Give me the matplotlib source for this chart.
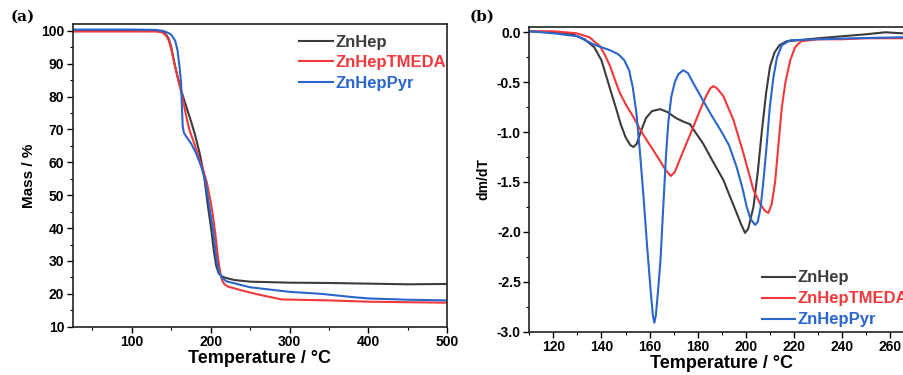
import matplotlib.pyplot as plt
from matplotlib.ticker import MultipleLocator

plt.rcParams['font.family'] = ['Liberation Sans', 'DejaVu Sans']
plt.rcParams['font.weight'] = 'bold'

names = ['ZnHep', 'ZnHepTMEDA', 'ZnHepPyr']
colors = ['#3c3c3c', '#f2383a', '#2a66cc']

# (a) TGA mass curves
tga_T = {
    'ZnHep': [25, 100, 130, 138, 143, 147, 150, 154, 158, 163, 169, 175, 180, 186, 190, 192.3, 196, 200.8, 204, 207, 210, 214, 220, 230, 250, 300, 350, 400, 450, 500],
    'ZnHepTMEDA': [25, 100, 130, 138, 143, 147, 150, 154, 158, 162, 165, 169, 173, 178, 183, 186, 190, 195, 200, 203, 206, 209, 212, 215, 218, 222, 240, 260, 290, 350, 400, 500],
    'ZnHepPyr': [25, 100, 130, 140, 147, 150, 155, 158, 160.5, 162.5, 163.5, 164.5, 166, 170, 175, 182, 188, 193, 198, 203, 207, 210, 214, 220, 250, 300, 340, 380, 400, 450, 500],
}
tga_m = {
    'ZnHep': [100.1, 100.2, 100.1, 99.8, 99.0, 97.5, 95.0, 90.2, 86.0, 81.5, 77.0, 72.5, 68.5, 62.8, 58.0, 54.6, 47.5, 39.4, 33.0, 28.5, 26.3, 25.3, 24.8, 24.2, 23.7, 23.4, 23.3, 23.1, 22.9, 23.0],
    'ZnHepTMEDA': [99.8, 99.8, 99.8, 99.6, 98.7, 97.0, 94.5, 90.0, 86.0, 82.0, 79.0, 74.0, 69.9, 66.5, 63.0, 60.7, 58.0, 54.0, 48.0, 43.5, 38.0, 31.5, 26.5, 23.8, 22.8, 22.2, 21.0, 19.8, 18.3, 18.0, 17.6, 17.3],
    'ZnHepPyr': [100.4, 100.4, 100.3, 100.0, 99.3, 98.8, 97.0, 94.0, 89.0, 84.0, 77.0, 71.0, 69.0, 67.5, 65.8, 62.5, 58.7, 54.6, 47.0, 39.4, 31.0, 27.0, 25.0, 23.8, 22.0, 20.6, 20.0, 19.0, 18.6, 18.2, 18.0],
}

# (b) DTG curves
dtg_T = {
    'ZnHep': [110, 120, 128, 133, 137, 140, 142, 144, 146.3, 148, 150, 152, 153.3, 154.6, 156.3, 158.5, 161, 164.4, 167.5, 171, 174.5, 176.8, 179, 182.4, 186, 190.7, 193, 196.2, 198, 199.7, 201, 203.2, 205, 206.6, 208.5, 210.1, 212, 214, 217, 222, 230, 240, 250, 258, 265, 270],
    'ZnHepTMEDA': [110, 120, 129.7, 135, 139.4, 141.5, 143.6, 145.5, 147.7, 150.5, 153.3, 156, 158.8, 161.5, 164.4, 166.7, 168.8, 170.5, 172.5, 175.4, 178.5, 181, 183.5, 185.3, 186.5, 188, 190.7, 194.9, 199, 203.2, 206, 208, 209.4, 210.8, 212.2, 213.5, 215, 216.5, 218.5, 220.5, 223, 230, 240, 250, 265, 270],
    'ZnHepPyr': [110, 120, 130, 136.6, 140, 143.6, 147, 149.5, 151.5, 153, 154.5, 156, 157.5, 159, 160.5, 161.4, 162, 162.6, 163.5, 164.5, 165.7, 166.8, 167.8, 169, 170.5, 172, 174, 176, 178.2, 181, 185.2, 190, 193, 196.2, 198.5, 200.4, 202, 203.9, 205, 206.2, 207.5, 208.7, 210, 211.5, 213, 215, 218.4, 230, 245, 265, 270],
}
dtg_v = {
    'ZnHep': [0.01, 0.0, -0.02, -0.07, -0.15, -0.28, -0.44, -0.6, -0.78, -0.92, -1.05, -1.13, -1.15, -1.12, -1.0, -0.86, -0.79, -0.77, -0.8, -0.86, -0.9, -0.92, -1.0, -1.12, -1.28, -1.48, -1.62, -1.81, -1.92, -2.01, -1.97, -1.75, -1.4, -1.01, -0.6, -0.34, -0.2, -0.13, -0.09, -0.08, -0.06, -0.04, -0.02, 0.0, -0.01, -0.01],
    'ZnHepTMEDA': [0.01, 0.01, -0.01, -0.05, -0.14, -0.23, -0.34, -0.47, -0.61, -0.74, -0.85, -0.97, -1.08, -1.18, -1.29, -1.38, -1.44, -1.4, -1.28, -1.11, -0.93, -0.78, -0.64, -0.56, -0.54, -0.56, -0.64, -0.88, -1.21, -1.58, -1.72, -1.79, -1.81, -1.72, -1.5, -1.15, -0.75, -0.5, -0.28, -0.15, -0.09, -0.07, -0.07, -0.06, -0.06, -0.06],
    'ZnHepPyr': [0.01, -0.01, -0.04, -0.12, -0.15, -0.18, -0.22, -0.28, -0.38, -0.55, -0.8, -1.2, -1.65, -2.15, -2.6, -2.84, -2.91, -2.84, -2.6, -2.3, -1.75, -1.25, -0.9, -0.65, -0.5, -0.42, -0.38, -0.41, -0.51, -0.63, -0.81, -1.0, -1.13, -1.35, -1.55, -1.75, -1.87, -1.93, -1.9, -1.75, -1.45, -1.13, -0.75, -0.45, -0.25, -0.13, -0.08, -0.07, -0.06, -0.05, -0.05],
}

fig = plt.figure(figsize=(9.04, 3.75), dpi=100)
ax1 = fig.add_axes([0.0804, 0.1288, 0.4144, 0.8064])
ax2 = fig.add_axes([0.5855, 0.1155, 0.4257, 0.8125])

for n, c in zip(names, colors):
    ax1.plot(tga_T[n], tga_m[n], color=c, lw=1.5, label=n)
    ax2.plot(dtg_T[n], dtg_v[n], color=c, lw=1.5, label=n)

ax1.set_xlim(25, 500)
ax1.set_ylim(10, 102)
ax1.xaxis.set_major_locator(MultipleLocator(100))
ax1.xaxis.set_minor_locator(MultipleLocator(50))
ax1.yaxis.set_major_locator(MultipleLocator(10))
ax1.yaxis.set_minor_locator(MultipleLocator(5))
ax1.set_xlabel('Temperature / \u00b0C', fontsize=13, fontweight='bold', labelpad=1)
ax1.set_ylabel('Mass / %', fontsize=11, fontweight='bold', labelpad=4)

ax2.set_xlim(110, 270)
ax2.set_ylim(-3.0, 0.053)
ax2.xaxis.set_major_locator(MultipleLocator(20))
ax2.xaxis.set_minor_locator(MultipleLocator(10))
ax2.yaxis.set_major_locator(MultipleLocator(0.5))
ax2.yaxis.set_minor_locator(MultipleLocator(0.25))
ax2.yaxis.set_major_formatter(plt.FormatStrFormatter('%.1f'))
ax2.set_xlabel('Temperature / \u00b0C', fontsize=13, fontweight='bold', labelpad=1)
ax2.set_ylabel('dm/dT', fontsize=10, fontweight='bold', labelpad=5)

for ax in (ax1, ax2):
    ax.tick_params(which='major', direction='out', length=4, width=1, labelsize=10, pad=2)
    ax.tick_params(which='minor', direction='out', length=2.5, width=0.8)
    for s in ax.spines.values():
        s.set_linewidth(1.2)
        s.set_color('#222222')
    for lab in ax.get_xticklabels() + ax.get_yticklabels():
        lab.set_fontweight('bold')

leg1 = ax1.legend(loc='upper left', bbox_to_anchor=(0.565, 1.015), frameon=False,
                  fontsize=12, handlelength=2.0, handletextpad=0.15,
                  labelspacing=0.33, labelcolor='linecolor')
leg2 = ax2.legend(loc='lower left', bbox_to_anchor=(0.565, -0.035), frameon=False,
                  fontsize=12, handlelength=2.0, handletextpad=0.15,
                  labelspacing=0.36, labelcolor='linecolor')
for leg in (leg1, leg2):
    for t in leg.get_texts():
        t.set_fontweight('bold')

fig.text(0.012, 0.945, '(a)', family='DejaVu Serif', fontweight='bold', fontsize=11)
fig.text(0.519, 0.945, '(b)', family='DejaVu Serif', fontweight='bold', fontsize=11)

fig.savefig('out.png', dpi=100)
